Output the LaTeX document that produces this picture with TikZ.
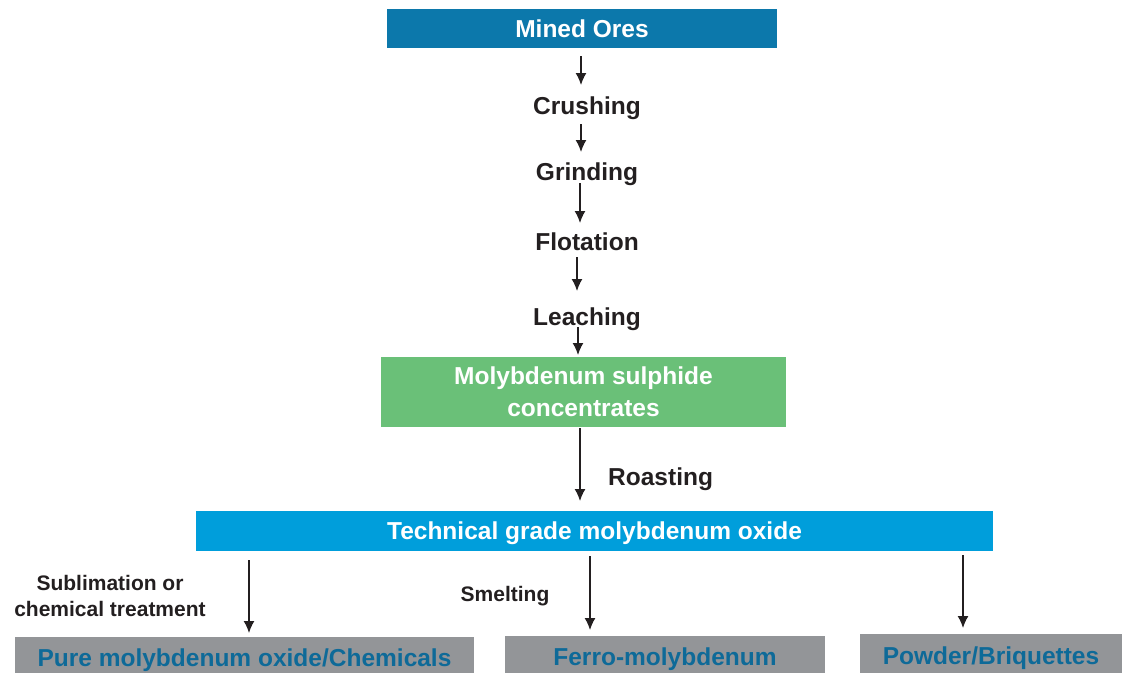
\documentclass[tikz,border=0pt]{standalone}
\usepackage{fontspec}
\setmainfont{Liberation Sans}
\usetikzlibrary{arrows.meta}
\definecolor{minedc}{HTML}{0C78AB}
\definecolor{greenc}{HTML}{6AC078}
\definecolor{techc}{HTML}{009EDB}
\definecolor{grayc}{HTML}{939598}
\definecolor{bluetext}{HTML}{0E6A98}
\definecolor{darktext}{HTML}{231F20}
\begin{document}
\begin{tikzpicture}[x=1pt,y=-1pt,
  box/.style={rectangle, inner sep=0pt, text=white, font=\bfseries\fontsize{24.5}{32}\selectfont, align=center},
  outbox/.style={rectangle, inner sep=0pt, fill=grayc, text=bluetext, text height=22pt, text depth=0pt, font=\bfseries\fontsize{24.5}{30}\selectfont},
  steplabel/.style={inner sep=0pt, text=darktext, text depth=0pt, font=\bfseries\fontsize{24.5}{30}\selectfont},
  smalllabel/.style={inner sep=0pt, text=darktext, font=\bfseries\fontsize{21}{26}\selectfont, align=center},
  arr/.style={draw=darktext, line width=1.4pt, -{Latex[length=12pt,width=11pt]}}]
\useasboundingbox (0,0) rectangle (1122,673);
% boxes
\node[box, fill=minedc, minimum width=390pt, minimum height=39pt] (mined) at (582,28.5) {Mined Ores};
\node[box, fill=greenc, minimum width=405pt, minimum height=70pt] (moly) at (583.5,392) {Molybdenum sulphide\\concentrates};
\node[box, fill=techc, text depth=0pt, minimum width=797pt, minimum height=40pt] (tech) at (594.5,531) {Technical grade molybdenum oxide};
\node[outbox, minimum width=459pt, minimum height=36pt] (pure) at (244.5,655) {Pure molybdenum oxide/Chemicals};
\node[outbox, minimum width=320pt, minimum height=37pt] (ferro) at (665,654.5) {Ferro-molybdenum};
\node[outbox, minimum width=262pt, minimum height=39pt] (powder) at (991,653.5) {Powder/Briquettes};
% step labels
\node[steplabel] (crush) at (587,106) {Crushing};
\node[steplabel] (grind) at (587,172) {Grinding};
\node[steplabel] (flot) at (587,242) {Flotation};
\node[steplabel] (leach) at (587,317) {Leaching};
\node[steplabel, anchor=west] (roast) at (608,477) {Roasting};
\node[smalllabel] (subl) at (110,596) {Sublimation or\\chemical treatment};
\node[smalllabel, text depth=0pt] (smelt) at (505,594) {Smelting};
% arrow end points
\coordinate (a1s) at (581,56);  \coordinate (a1e) at (581,85);
\coordinate (a2s) at (581,124); \coordinate (a2e) at (581,152);
\coordinate (a3s) at (580,183); \coordinate (a3e) at (580,223);
\coordinate (a4s) at (577,257); \coordinate (a4e) at (577,291);
\coordinate (a5s) at (578,327); \coordinate (a5e) at (578,355);
\coordinate (a6s) at (580,428); \coordinate (a6e) at (580,501);
\coordinate (a7s) at (249,560); \coordinate (a7e) at (249,633);
\coordinate (a8s) at (590,556); \coordinate (a8e) at (590,630);
\coordinate (a9s) at (963,555); \coordinate (a9e) at (963,628);
\draw[arr] (a1s) -- (a1e);
\draw[arr] (a2s) -- (a2e);
\draw[arr] (a3s) -- (a3e);
\draw[arr] (a4s) -- (a4e);
\draw[arr] (a5s) -- (a5e);
\draw[arr] (a6s) -- (a6e);
\draw[arr] (a7s) -- (a7e);
\draw[arr] (a8s) -- (a8e);
\draw[arr] (a9s) -- (a9e);
\end{tikzpicture}
\end{document}
